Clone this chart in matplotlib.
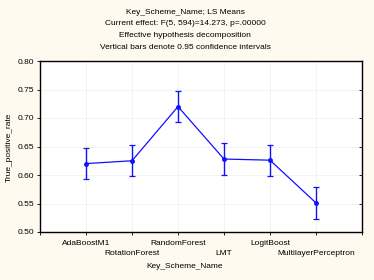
import matplotlib
matplotlib.use("Agg")
import matplotlib.pyplot as plt
import matplotlib.lines as mlines
import numpy as np

plt.rcParams['font.family'] = ['Liberation Sans', 'DejaVu Sans']

categories = ["AdaBoostM1", "RotationForest", "RandomForest", "LMT", "LogitBoost", "MultilayerPerceptron"]
means = [0.620, 0.625, 0.720, 0.628, 0.626, 0.551]
ci_half = [0.0275, 0.0275, 0.0275, 0.0275, 0.0275, 0.0275]
yticks = [0.50, 0.55, 0.60, 0.65, 0.70, 0.75, 0.80]
title_lines = ["Key_Scheme_Name; LS Means",
               "Current effect: F(5, 594)=14.273, p=.00000",
               "Effective hypothesis decomposition",
               "Vertical bars denote 0.95 confidence intervals"]

bg = "#FFFAF0"
fig = plt.figure(figsize=(3.74, 2.80), dpi=100, facecolor=bg)
ax = fig.add_axes([40/374, 48/280, 322/374, 171/280])
ax.set_facecolor("white")

x = np.arange(1, len(categories) + 1)
ax.errorbar(x, means, yerr=ci_half, color="#1010FF", lw=0.9, marker="o", ms=2.5,
            capsize=2.5, capthick=0.9, elinewidth=1.0, zorder=3)

ax.set_xlim(0, len(categories) + 1)
ax.set_ylim(0.50, 0.80)
ax.set_yticks(yticks)
ax.set_yticklabels([f"{v:.2f}" for v in yticks], fontsize=6)
ax.set_xticks(np.arange(0, len(categories) + 2))
ax.set_xticklabels([""] * (len(categories) + 2))
for i, (xi, c) in enumerate(zip(x, categories)):
    off = -0.045 if i % 2 == 0 else -0.105
    ax.text(xi, off, c, transform=ax.get_xaxis_transform(), ha="center", va="top", fontsize=6)
ax.grid(True, color="#EEEEEE", lw=0.5)
ax.set_axisbelow(True)
for s in ax.spines.values():
    s.set_linewidth(1.0)
    s.set_color("black")
ax.tick_params(axis="both", length=2.5, width=0.6, pad=2)
ax.tick_params(axis="y", right=True, direction="out")
for t in ax.yaxis.get_major_ticks():
    t.tick2line.set_marker(mlines.TICKLEFT)

fig.text(9/374, 1 - 147/280, "True_positive_rate", rotation=90, ha="center", va="center", fontsize=6)
fig.text(185/374, 1 - 267/280, "Key_Scheme_Name", ha="center", va="center", fontsize=6)

for i, t in enumerate(title_lines):
    fig.text(185/374, 1 - (12 + i * 11.7)/280, t, ha="center", va="center", fontsize=6)

fig.savefig("out.png", dpi=100, facecolor=bg)
